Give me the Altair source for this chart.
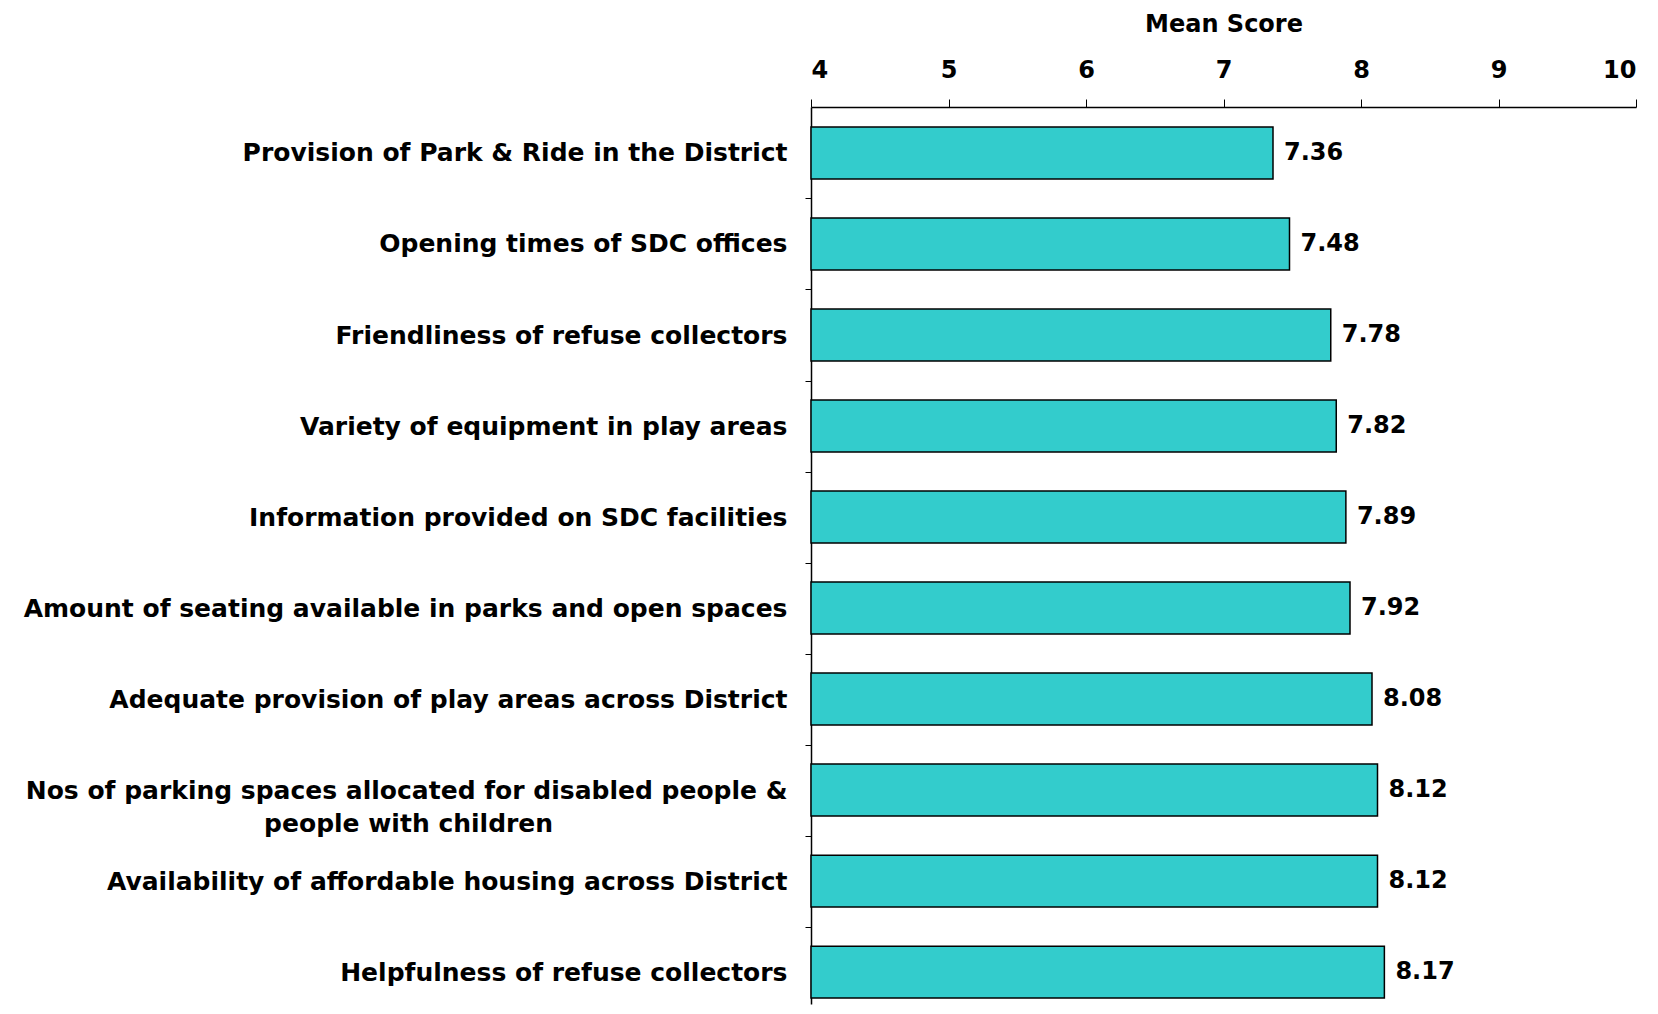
import altair as alt
import pandas as pd

PAD = "\u2800"
categories = [
    "Provision of Park & Ride in the District",
    "Opening times of SDC offices",
    "Friendliness of refuse collectors",
    "Variety of equipment in play areas",
    "Information provided on SDC facilities",
    "Amount of seating available in parks and open spaces",
    "Adequate provision of play areas across District",
    "Nos of parking spaces allocated for disabled people &|people with children" + PAD * 12,
    "Availability of affordable housing across District",
    "Helpfulness of refuse collectors",
]
scores = [7.36, 7.48, 7.78, 7.82, 7.89, 7.92, 8.08, 8.12, 8.12, 8.17]
x_ticks = [4, 5, 6, 7, 8, 9, 10]
x_min = 4

df = pd.DataFrame({"cat": categories, "score": scores,
                   "lbl": [f"{v:.2f}" for v in scores]})

FONT = "DejaVu Sans"

y = alt.Y("cat:N", sort=categories, title=None,
          scale=alt.Scale(paddingInner=0.43, paddingOuter=0.143, align=0.77),
          axis=alt.Axis(labelExpr="split(datum.label, '|')",
                        labelFont=FONT, labelFontSize=25, labelFontWeight="bold",
                        labelColor="black", labelPadding=18, labelLimit=1000,
                        tickColor="black", tickSize=6, tickOffset=45.5,
                        labelOffset=-45.5,
                        domainColor="black", domainWidth=1.5, labelLineHeight=33))
x = alt.X("score:Q", title="Mean Score",
          scale=alt.Scale(domain=[4, 10], nice=False, zero=False),
          axis=alt.Axis(orient="top", values=x_ticks, grid=False, format="d",
                        labelFont=FONT, labelFontSize=24, labelFontWeight="bold",
                        labelColor="black", titleFont=FONT, titleFontSize=24,
                        titleFontWeight="bold", titleColor="black",
                        tickColor="black", tickSize=8, domainColor="black",
                        domainWidth=1.5, labelPadding=17, titlePadding=22))

bars = alt.Chart(df).mark_bar(color="#33CCCC", stroke="black", strokeWidth=1.5).encode(
    x=x, x2=alt.X2(datum=x_min), y=y)
text = alt.Chart(df).mark_text(align="left", dx=11, font=FONT, fontSize=24,
                               fontWeight="bold", color="black").encode(
    x="score:Q", y=alt.Y("cat:N", sort=categories), text="lbl:N")

chart = (bars + text).properties(
    width=825, height=897,
    padding={"left": 15, "top": 4, "right": 0, "bottom": 0}
).configure_view(stroke=None)
chart.save("out.html", embed_options={"renderer": "svg", "actions": False})
